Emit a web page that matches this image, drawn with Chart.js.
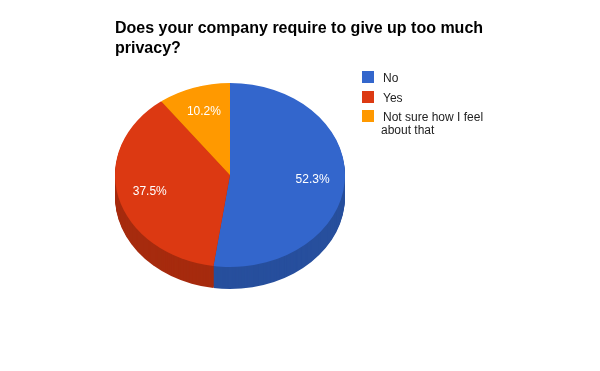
<!DOCTYPE html>
<html>
<head>
<meta charset="utf-8">
<script src="https://cdn.jsdelivr.net/npm/chart.js@4"></script>
<style>
  html, body { margin: 0; padding: 0; background: #fff; }
  #wrap { position: relative; width: 600px; height: 371px; }
</style>
</head>
<body>
<div id="wrap"><canvas id="c" width="600" height="371"></canvas></div>
<script>
const titleLines = ["Does your company require to give up too much", "privacy?"];
const categories = ["No", "Yes", "Not sure how I feel about that"];
const legendLines = [["No"], ["Yes"], ["Not sure how I feel", "about that"]];
const values = [52.3, 37.5, 10.2];
const colors = ["#3366cc", "#dc3912", "#ff9900"];
const sideColors = ["#274f9d", "#a62b0e", "#c27400"];

const TILT = 0.8;
const DEPTH = 22;
const FONT = "'Liberation Sans', Arial, sans-serif";

const pie3d = {
  id: 'pie3d',
  beforeDatasetsDraw(chart) {
    const ctx = chart.ctx;
    const arcs = chart.getDatasetMeta(0).data;
    if (!arcs.length) return;
    const cx = arcs[0].x, cy = arcs[0].y;
    ctx.save();
    ctx.translate(cx, cy);
    ctx.scale(1, TILT);
    ctx.translate(-cx, -cy);
    for (let d = DEPTH; d >= 1; d--) {
      arcs.forEach((a, i) => {
        ctx.beginPath();
        ctx.moveTo(a.x, a.y + d / TILT);
        ctx.arc(a.x, a.y + d / TILT, a.outerRadius, a.startAngle, a.endAngle);
        ctx.closePath();
        ctx.fillStyle = sideColors[i];
        ctx.fill();
      });
    }
  },
  afterDatasetsDraw(chart) {
    const ctx = chart.ctx;
    ctx.restore();
    const arcs = chart.getDatasetMeta(0).data;
    const total = values.reduce((s, v) => s + v, 0);
    ctx.save();
    ctx.fillStyle = '#ffffff';
    ctx.font = '12px ' + FONT;
    ctx.textAlign = 'center';
    ctx.textBaseline = 'middle';
    arcs.forEach((a, i) => {
      const mid = (a.startAngle + a.endAngle) / 2;
      const r = a.outerRadius * 0.72;
      const x = a.x + Math.cos(mid) * r;
      const y = a.y + Math.sin(mid) * r * TILT;
      ctx.fillText((values[i] / total * 100).toFixed(1) + '%', x, y);
    });
    ctx.restore();

    // title
    ctx.save();
    ctx.fillStyle = '#000000';
    ctx.font = 'bold 16px ' + FONT;
    ctx.textAlign = 'left';
    ctx.textBaseline = 'alphabetic';
    titleLines.forEach((t, i) => ctx.fillText(t, 115, 33 + i * 19.5));
    ctx.restore();

    // legend
    ctx.save();
    ctx.font = '12px ' + FONT;
    ctx.textAlign = 'left';
    ctx.textBaseline = 'alphabetic';
    const tops = [71, 91, 110];
    legendLines.forEach((lines, i) => {
      ctx.fillStyle = colors[i];
      ctx.fillRect(362, tops[i], 12, 12);
      ctx.fillStyle = '#222222';
      lines.forEach((t, j) => ctx.fillText(t, j === 0 ? 383 : 381, tops[i] + 11 + j * 13));
    });
    ctx.restore();
  }
};

new Chart(document.getElementById('c'), {
  type: 'pie',
  data: {
    labels: categories,
    datasets: [{
      data: values,
      backgroundColor: colors,
      borderWidth: 0,
      hoverOffset: 0
    }]
  },
  options: {
    responsive: false,
    animation: false,
    events: [],
    layout: { padding: { left: 115, right: 255, top: 60, bottom: 81 } },
    plugins: {
      legend: { display: false },
      title: { display: false },
      tooltip: { enabled: false }
    }
  },
  plugins: [pie3d]
});
</script>
</body>
</html>
